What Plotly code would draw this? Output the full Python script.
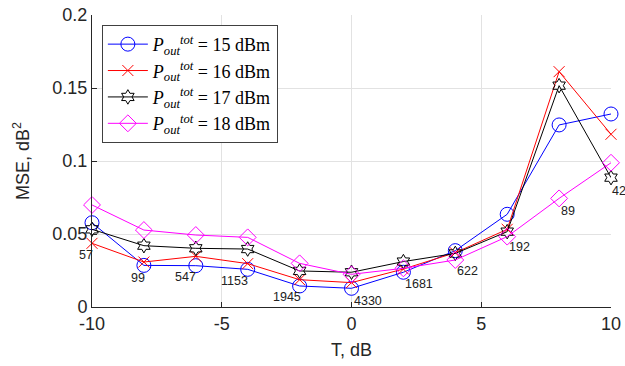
import plotly.graph_objects as go

T = [-10, -8, -6, -4, -2, 0, 2, 4, 6, 8, 10]
mse_15 = [0.0577, 0.0285, 0.0283, 0.0258, 0.0144, 0.0128, 0.0238, 0.0386, 0.0635, 0.1247, 0.1322]
mse_16 = [0.0436, 0.0308, 0.0347, 0.0297, 0.0187, 0.0167, 0.0260, 0.0372, 0.0532, 0.1612, 0.1183]
mse_17 = [0.0532, 0.0420, 0.0402, 0.0397, 0.0247, 0.0238, 0.0311, 0.0367, 0.0516, 0.1516, 0.0886]
mse_18 = [0.0699, 0.0527, 0.0493, 0.0477, 0.0299, 0.0224, 0.0265, 0.0322, 0.0482, 0.0744, 0.0988]

labels = ["57", "99", "547", "1153", "1945", "4330", "1681", "622", "192", "89", "42"]
label_y = [0.0356, 0.0199, 0.0205, 0.0178, 0.0068, 0.0043, 0.0158, 0.0247, 0.0411, 0.0660, 0.0797]
label_shift_px = [-15, -15, -23, -29, -29, 0, 0, 0, 0, 0, -1]

x_ticks = [-10, -5, 0, 5, 10]
x_ticktext = ["-10", "-5", "0", "5", "10"]
y_ticks = [0, 0.05, 0.1, 0.15, 0.2]
y_ticktext = ["0", "0.05", "0.1", "0.15", "0.2"]

series = [
    (mse_15, "15", "#0000ff", "circle-open", 14),
    (mse_16, "16", "#ff0000", "x-thin-open", 11),
    (mse_17, "17", "#000000", "hexagram-open", 11),
    (mse_18, "18", "#ff00ff", "diamond-open", 13),
]

fig = go.Figure()
for vals, p, col, sym, sz in series:
    fig.add_trace(go.Scatter(
        x=T, y=vals, mode="lines+markers", cliponaxis=False,
        name="<i>P</i><sub><i>out</i></sub><sup><i>tot</i></sup> = " + p + " dBm",
        line=dict(color=col, width=1),
        marker=dict(symbol=sym, size=sz, color=col, line=dict(color=col, width=1)),
    ))

for t, lx, ly, sh in zip(labels, T, label_y, label_shift_px):
    fig.add_annotation(x=lx, y=ly, xshift=sh, text=t, showarrow=False, xanchor="left", yanchor="middle",
                       font=dict(family="Liberation Sans, Arial", size=12.5, color="#222222"))

axis_common = dict(showgrid=True, gridcolor="#e2e2e2", gridwidth=1, zeroline=False, automargin=False,
                   showline=True, linecolor="#262626", linewidth=1, ticks="inside",
                   ticklen=5, tickcolor="#262626",
                   tickfont=dict(family="Liberation Sans, Arial", size=18, color="#262626"))

fig.update_layout(
    width=625, height=366,
    margin=dict(l=92, r=14, t=15, b=59),
    plot_bgcolor="white", paper_bgcolor="white",
    xaxis=dict(range=[-10, 10], tickvals=x_ticks, ticktext=x_ticktext,
               title=dict(text="T, dB", font=dict(family="Liberation Sans, Arial", size=18, color="#262626"), standoff=10),
               **axis_common),
    yaxis=dict(range=[0, 0.2], tickvals=y_ticks, ticktext=y_ticktext,
               title=dict(text="MSE, dB<sup>2</sup>", font=dict(family="Liberation Sans, Arial", size=18, color="#262626"), standoff=18),
               **axis_common),
    legend=dict(x=0.019, y=0.966, xanchor="left", yanchor="top",
                bgcolor="white", bordercolor="#404040", borderwidth=1,
                font=dict(family="Liberation Serif, DejaVu Serif", size=18, color="#000000"),
                tracegroupgap=0, itemwidth=40),
    showlegend=True,
)

fig.write_html("out.html")
